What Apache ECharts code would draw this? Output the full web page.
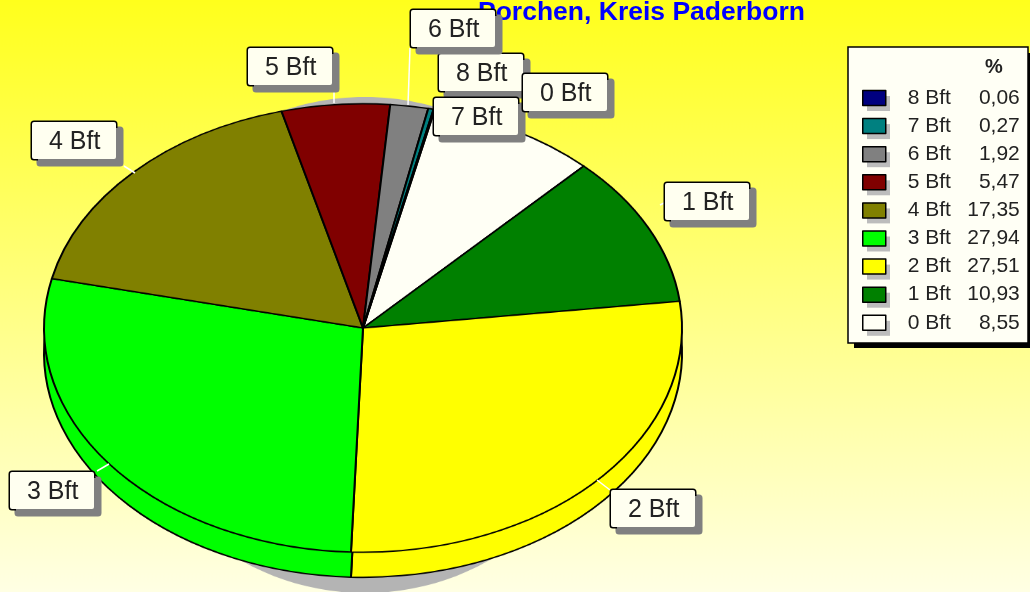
<!DOCTYPE html>
<html>
<head>
<meta charset="utf-8">
<script src="https://cdn.jsdelivr.net/npm/echarts@6/dist/echarts.min.js"></script>
<style>
html,body{margin:0;padding:0;width:1030px;height:592px;overflow:hidden;background:#ffff80;}
#stage{position:relative;width:1030px;height:592px;overflow:hidden;}
/* the pie of the original is tilted, so its layer is squeezed vertically */
#pie{position:absolute;left:0;top:0;width:1030px;height:842px;transform-origin:0 0;transform:scaleY(0.703);}
#over{position:absolute;left:0;top:0;width:1030px;height:592px;}
</style>
</head>
<body>
<div id="stage">
	<div id="pie"></div>
	<div id="over"></div>
</div>
<script>
var categories=['0 Bft','1 Bft','2 Bft','3 Bft','4 Bft','5 Bft','6 Bft','7 Bft','8 Bft'];
var percents=[8.55,10.93,27.51,27.94,17.35,5.47,1.92,0.27,0.06];
var titleText='Porchen, Kreis Paderborn';

var sliceColors=['#fffff5','#008000','#ffff00','#00ff00','#808000','#800000','#808080','#008080','#000080'];
// top left corner of every label box
var labelBoxes={
	'0 Bft':[523,74],'1 Bft':[665,183],'2 Bft':[611,490],'3 Bft':[10,472],'4 Bft':[32,122],
	'5 Bft':[248,48],'6 Bft':[411,10],'7 Bft':[434,98],'8 Bft':[439,54]
};
var leaders=[
	[[410,48],[408,105]],[[334,92],[334,103]],[[124,166],[135,173]],[[97,471],[109,464]],
	[[597,480],[610,490]],[[519,116],[516,127]],[[664,203],[660,205]]
];

var squeeze=0.703;
var pieData=categories.map(function(name,i){
	return {name:name,value:percents[i],itemStyle:{color:sliceColors[i]}};
});
function pieSeries(cy){
	return {
		type:'pie',
		silent:true,
		animation:false,
		radius:[0,319],
		center:[363,cy/squeeze],
		startAngle:77,
		clockwise:true,
		label:{show:false},
		labelLine:{show:false},
		itemStyle:{borderColor:'#000',borderWidth:2},
		data:pieData
	};
}
var pieChart=echarts.init(document.getElementById('pie'));
pieChart.setOption({
	animation:false,
	backgroundColor:{
		type:'linear',x:0,y:0,x2:0,y2:1,
		colorStops:[{offset:0,color:'#ffff1c'},{offset:1,color:'#ffffe4'}]
	},
	graphic:[{
		type:'ellipse',
		silent:true,
		z:0,
		shape:{cx:365,cy:345/squeeze,rx:250,ry:248/squeeze},
		style:{fill:'#b4b4b4'}
	}],
	series:[pieSeries(353),pieSeries(328)]
});

// labels, legend and title sit unsqueezed on top
var reversedNames=categories.slice().reverse();
var reversedData=reversedNames.map(function(name){
	return {name:name,value:percents[categories.indexOf(name)]};
});
var legendData=reversedNames.map(function(name){
	return {
		name:name,
		icon:'rect',
		itemStyle:{
			color:sliceColors[categories.indexOf(name)],
			borderColor:'#000',borderWidth:1.5
		}
	};
});
// legend frame and icon shadows: canvas shadows would also hit the strokes, so they are drawn apart
var legendFrame=[
	{type:'rect',silent:true,z:1,shape:{x:854,y:53,width:180,height:295},style:{fill:'#000'}},
	{type:'rect',silent:true,z:2,shape:{x:848,y:47,width:180,height:296},style:{fill:'#fffff5',stroke:'#000',lineWidth:1.5}}
];
var iconShadows=reversedNames.map(function(name,i){
	return {type:'rect',silent:true,z:3,shape:{x:867,y:96+28.1*i,width:23,height:15},style:{fill:'#bcbcbc'}};
});
var leaderLines=leaders.map(function(p){
	return {
		type:'line',
		silent:true,
		z:5,
		shape:{x1:p[0][0],y1:p[0][1],x2:p[1][0],y2:p[1][1]},
		style:{stroke:'#fff',lineWidth:1.5}
	};
});
var overChart=echarts.init(document.getElementById('over'));
overChart.setOption({
	animation:false,
	title:{
		text:titleText,
		left:478,
		top:-1,
		padding:0,
		textStyle:{color:'#0000ff',fontFamily:'Liberation Sans',fontWeight:'bold',fontSize:26.5}
	},
	legend:{
		orient:'vertical',
		left:848,
		top:50,
		z:6,
		padding:[36,8,7,14],
		selectedMode:false,
		itemWidth:23,
		itemHeight:15,
		itemGap:4.1,
		data:legendData,
		formatter:function(name){
			var v=percents[categories.indexOf(name)].toFixed(2).replace('.',',');
			return '{n|'+name+'}{v|'+v+'}';
		},
		textStyle:{
			padding:[0,0,0,17],
			rich:{
				n:{fontFamily:'Liberation Sans',fontSize:21,color:'#222',width:50,height:24,lineHeight:24},
				v:{fontFamily:'Liberation Sans',fontSize:21,color:'#222',width:62,height:24,lineHeight:24,align:'right'}
			}
		}
	},
	graphic:legendFrame.concat(iconShadows,leaderLines,[{
		type:'text',
		silent:true,
		z:100,
		x:985,
		y:57,
		style:{text:'%',fill:'#222',font:'bold 20px "Liberation Sans"'}
	}]),
	series:[{
		type:'pie',
		silent:true,
		animation:false,
		radius:[0,100],
		center:[363,327],
		avoidLabelOverlap:false,
		minShowLabelAngle:0,
		z:10,
		itemStyle:{color:'rgba(0,0,0,0)',borderWidth:0},
		labelLine:{show:false},
		label:{
			show:true,
			position:'outside',
			formatter:'{b}',
			width:67,
			height:33,
			lineHeight:33,
			padding:[4,0,0,17],
			fontFamily:'Liberation Sans',
			fontSize:25,
			color:'#222',
			backgroundColor:'#fffff0',
			borderColor:'#000',
			borderWidth:1.5,
			borderRadius:2,
			shadowColor:'#808080',
			shadowBlur:0,
			shadowOffsetX:6,
			shadowOffsetY:6
		},
		labelLayout:function(params){
			var box=labelBoxes[reversedNames[params.dataIndex]];
			return {x:box[0],y:box[1],align:'left',verticalAlign:'top'};
		},
		data:reversedData
	}]
});
</script>
</body>
</html>
